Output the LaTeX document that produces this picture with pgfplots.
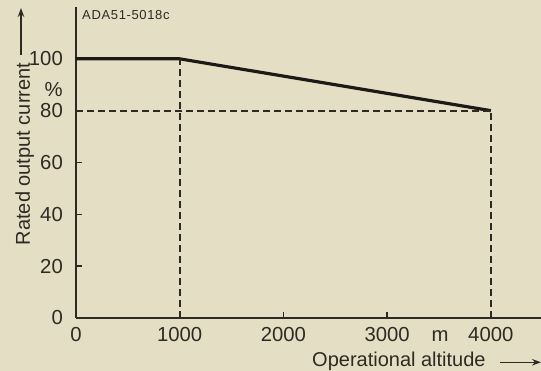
\documentclass[border=0pt]{standalone}
\usepackage{pgfplots}
\pgfplotsset{compat=1.18}
\usepackage{fontspec}
\setmainfont{Liberation Sans}
\newfontfamily\adafont[LetterSpace=5]{Liberation Sans}
\usetikzlibrary{arrows.meta}

\definecolor{bg}{RGB}{228,223,196}
\definecolor{ink}{RGB}{45,42,36}
\definecolor{curve}{RGB}{28,26,22}

\newcommand{\lblfont}{\fontsize{20}{24}\selectfont}
\newcommand{\tickfont}{\fontsize{20.3}{24}\selectfont}
\newcommand{\codefont}{\adafont\fontsize{13}{15}\selectfont}

\begin{document}
\begin{tikzpicture}
% page background
\fill[bg, use as bounding box] (-76pt,-53pt) rectangle (465pt,318pt);

\begin{axis}[
  at={(0,0)}, anchor=south west,
  scale only axis, width=465pt, height=311pt,
  xmin=0, xmax=4484, ymin=0, ymax=120,
  axis lines=left,
  axis line style={-, line width=1.7pt, color=ink},
  xtick={0,1000,2000,3000,4000},
  ytick={0,20,40,60,80,100},
  tick align=inside,
  major tick length=6pt,
  tick style={line width=1.4pt, color=ink},
  scaled x ticks=false,
  /pgf/number format/1000 sep={},
  /pgf/number format/assume math mode=true,
  tick label style={font=\tickfont, text=ink},
  xticklabel style={anchor=base, inner sep=0pt, yshift=-24pt},
  yticklabel style={anchor=east, inner sep=0pt, xshift=-13pt},
  clip=false,
]
% derating curve
\addplot[curve, line width=3.2pt, line join=round] coordinates {
  (0,100) (1000,100) (4000,80)
};
% guide lines
\addplot[ink, line width=1.7pt, dash pattern=on 7pt off 4pt] coordinates {(0,80) (4000,80)};
\addplot[ink, line width=1.7pt, dash pattern=on 7pt off 4pt] coordinates {(1000,0) (1000,100)};
\addplot[ink, line width=1.7pt, dash pattern=on 7pt off 4pt] coordinates {(4000,0) (4000,80)};

% units
\node[anchor=east, inner sep=0pt, font=\tickfont, text=ink, xshift=-13pt] at (axis cs:0,88) {\%};
\node[anchor=base, inner sep=0pt, font=\tickfont, text=ink, yshift=-24pt] at (axis cs:3510,0) {m};
\end{axis}

% figure code
\node[anchor=west, inner sep=0pt, text=ink, font=\codefont] at (6pt,303pt) {ADA51-5018c};

% axis titles with arrows
\node[anchor=base west, inner sep=0pt, font=\lblfont, text=ink] at (236pt,-48.7pt) {Operational altitude};
\draw[ink, line width=1.4pt, -{Stealth[length=9pt,width=6.5pt]}] (424pt,-44.3pt) -- (465pt,-44.3pt);

\node[rotate=90, anchor=base, inner sep=0pt, font=\lblfont, text=ink] at (-46pt,164pt) {Rated output current};
\draw[ink, line width=1.4pt, -{Stealth[length=9pt,width=6.5pt]}] (-55pt,263pt) -- (-55pt,310pt);
\end{tikzpicture}
\end{document}
